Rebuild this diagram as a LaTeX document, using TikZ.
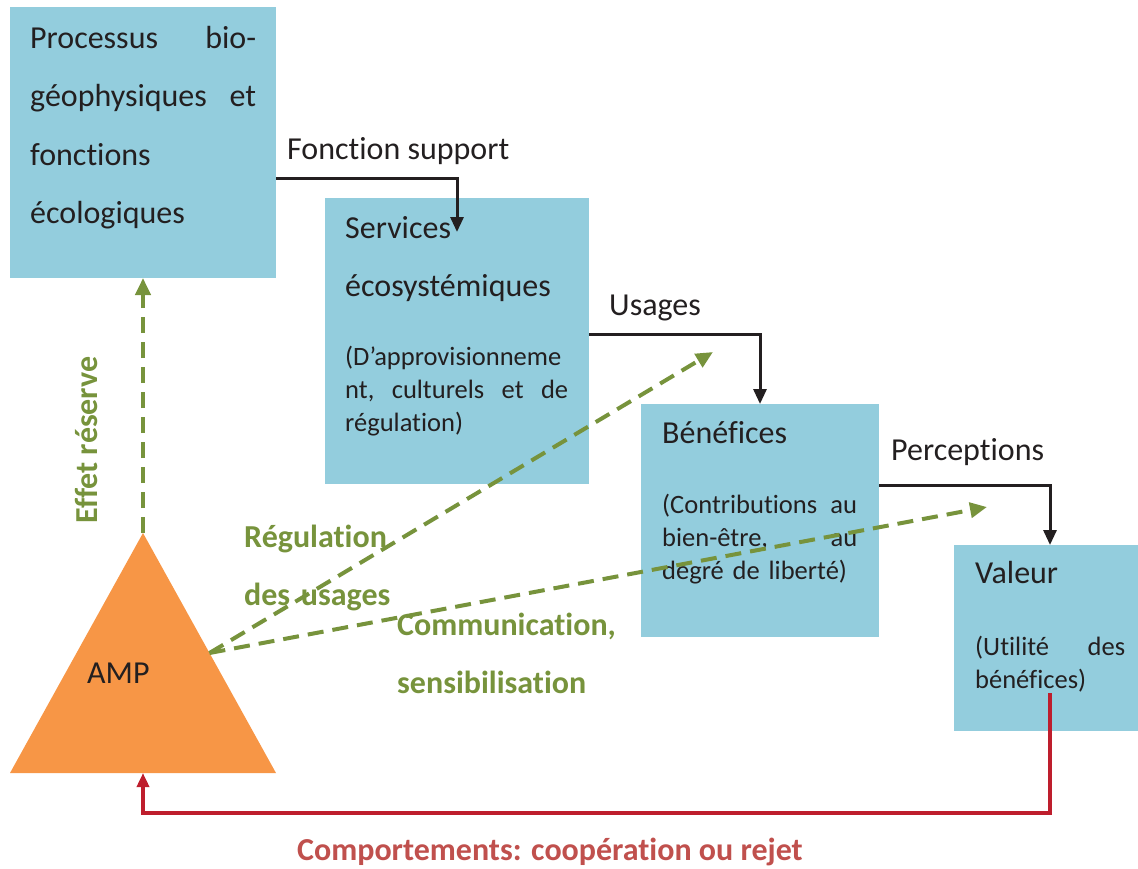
\documentclass[tikz,border=0pt]{standalone}
\usepackage{fontspec}
\setmainfont[Ligatures=NoCommon]{Carlito}
\usetikzlibrary{shapes.geometric,arrows.meta,calc}
\definecolor{boxblue}{HTML}{93CDDD}
\definecolor{ampfill}{HTML}{F79646}
\definecolor{ink}{HTML}{231F20}
\definecolor{effgreen}{HTML}{77933C}
\definecolor{backred}{HTML}{BE1E2D}
\definecolor{backtext}{HTML}{C0504D}
\begin{document}
\begin{tikzpicture}[x=1pt,y=-1pt,
    box/.style={rectangle,fill=boxblue,inner sep=0,outer sep=0,anchor=north west},
    tri/.style={isosceles triangle,isosceles triangle stretches,shape border rotate=90,
      minimum width=266,minimum height=240,inner sep=0,outer sep=0,fill=ampfill},
    big/.style={font=\fontsize{32}{58.6}\selectfont,text=ink,inner sep=0,anchor=base west,align=left},
    small/.style={font=\fontsize{26.5}{33}\selectfont,text=ink,inner sep=0,anchor=base west,align=left},
    note/.style={font=\bfseries\fontsize{32}{58.6}\selectfont,text=effgreen,inner sep=0,anchor=base west,align=left},
    flow/.style={draw=ink,line width=3pt,-{Triangle[length=15pt,width=13pt]}},
    effect/.style={draw=effgreen,line width=4pt,dash pattern=on 16pt off 9pt,-{Triangle[length=17pt,width=15pt]}},
    back/.style={draw=backred,line width=3.5pt,-{Triangle[length=14pt,width=12pt]}}]
  \useasboundingbox (0,0) rectangle (1138,868);
  \node[box,minimum width=266,minimum height=271] (proc) at (10,7) {};
  \node[box,minimum width=264,minimum height=286] (serv) at (325,198) {};
  \node[box,minimum width=238,minimum height=233] (bene) at (641,404) {};
  \node[box,minimum width=192,minimum height=186] (val) at (954,545) {};
  \node[tri,anchor=apex] (amp) at (143,533) {};

  \node[big,text width=226] (proc-t) at (30,48) {Processus\hfill bio-\\géophysiques\hfill et\\fonctions\\écologiques};
  \node[big,text width=230] (serv-t) at (345,238) {Services\\écosystémiques};
  \node[small,text width=223] (serv-d) at (345,365) {(D’approvisionneme\\nt,\hfill culturels\hfill et\hfill de\\régulation)};
  \node[big,text width=195] (bene-t) at (662,443) {Bénéfices};
  \node[small,text width=195] (bene-d) at (662,513) {(Contributions\hfill au\\bien-être,\hfill au\\degré de liberté)};
  \node[big,text width=150] (val-t) at (975,583) {Valeur};
  \node[small,text width=150] (val-d) at (975,655) {(Utilité\hfill des\\bénéfices)};
  \node[big] (amp-t) at (87,683) {AMP};

  \node[big] (fs) at (287,159) {Fonction support};
  \node[big] (us) at (609,315) {Usages};
  \node[big] (pe) at (891,460) {Perceptions};
  \node[note,rotate=90,anchor=base] (eff) at (97,440) {Effet réserve};
  \node[note,text width=160] (reg) at (244,547) {Régulation\\des usages};
  \node[note,text width=230] (com) at (397,635) {Communication,\\sensibilisation};
  \node[font=\bfseries\fontsize{32}{38}\selectfont,text=backtext,inner sep=0,anchor=base] (comp) at (550,860) {Comportements: coopération ou rejet};

  \coordinate (amp-r) at ($(amp.apex)!0.5!(amp.right corner)$);
  \coordinate (reg-end) at (713,352);
  \coordinate (com-end) at (987,507);
  \coordinate (val-out) at (1050,693);

  \draw[flow] ($(proc.north east)+(0,171)$) -| ($(serv.north west)+(132,34)$);
  \draw[flow] ($(serv.north east)+(0,136)$) -| (bene.north);
  \draw[flow] ($(bene.north east)+(0,81)$) -| (val.north);
  \draw[back] (val-out) |- ($(amp.lower side)+(0,40)$) -- (amp.lower side);
  \draw[effect] (amp.apex) -- (proc.south);
  \draw[effect] (amp-r) -- (reg-end);
  \draw[effect] (amp-r) -- (com-end);
\end{tikzpicture}
\end{document}
